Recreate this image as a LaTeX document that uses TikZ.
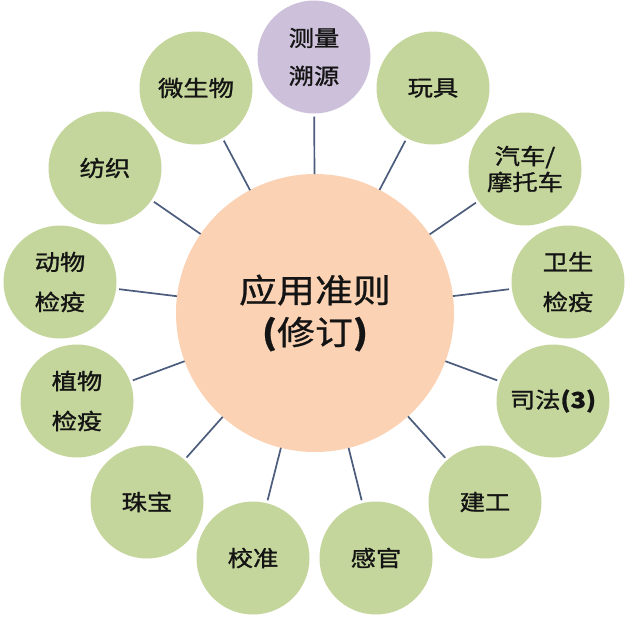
\documentclass[tikz,border=0pt]{standalone}
\usepackage{fontspec}
\newfontfamily\cjk[FakeStretch=1.15,FakeBold=1.2]{Noto Sans CJK SC}
\newfontfamily\cjkhub[FakeStretch=1.15,FakeBold=0.8]{Noto Sans CJK SC}
\definecolor{leafgreen}{RGB}{196,214,155}
\definecolor{lilac}{RGB}{204,192,218}
\definecolor{peach}{RGB}{251,211,180}
\definecolor{spoke}{RGB}{76,92,124}
\begin{document}
\begin{tikzpicture}[x=1pt,y=-1pt,
  petal/.style={circle,fill=leafgreen,minimum size=113pt,inner sep=0pt,outer sep=3pt,align=center,
    font=\cjk\fontsize{22}{40}\selectfont,text=black!92},
  hub/.style={circle,fill=peach,minimum size=278pt,inner sep=0pt,outer sep=0pt,align=center,
    font=\cjkhub\fontsize{33}{42}\selectfont,text=black!92},
  spokeline/.style={draw=spoke,line width=1.7pt}]
\useasboundingbox (0,0) rectangle (640,630);
\fill[white] (0,0) rectangle (640,630);
\node[hub] (hub) at (315,313) {应用准则\\\textbf{(}修订\textbf{)}};
\node[petal,fill=lilac,font=\cjk\fontsize{22}{38}\selectfont] (trace) at (314,57) {测量\\溯源};
\node[petal] (micro) at (196,88) {微生物};
\node[petal] (toy) at (433,88) {玩具};
\node[petal] (textile) at (105,168) {纺织};
\node[petal,font=\cjk\fontsize{22}{26}\selectfont] (auto) at (525,169) {汽车/\\摩托车};
\node[petal] (animal) at (60,282) {动物\\检疫};
\node[petal] (health) at (568,282) {卫生\\检疫};
\node[petal] (plant) at (77,401) {植物\\检疫};
\node[petal] (forensic) at (553,401) {司法\textbf{(3)}};
\node[petal] (jewel) at (147,502) {珠宝};
\node[petal] (build) at (485,502) {建工};
\node[petal] (calib) at (253,558) {校准};
\node[petal] (sense) at (376,558) {感官};
\foreach \n in {trace,micro,toy,textile,auto,animal,health,plant,forensic,jewel,build,calib,sense}
  \draw[spokeline] (hub) -- (\n);
\end{tikzpicture}
\end{document}
